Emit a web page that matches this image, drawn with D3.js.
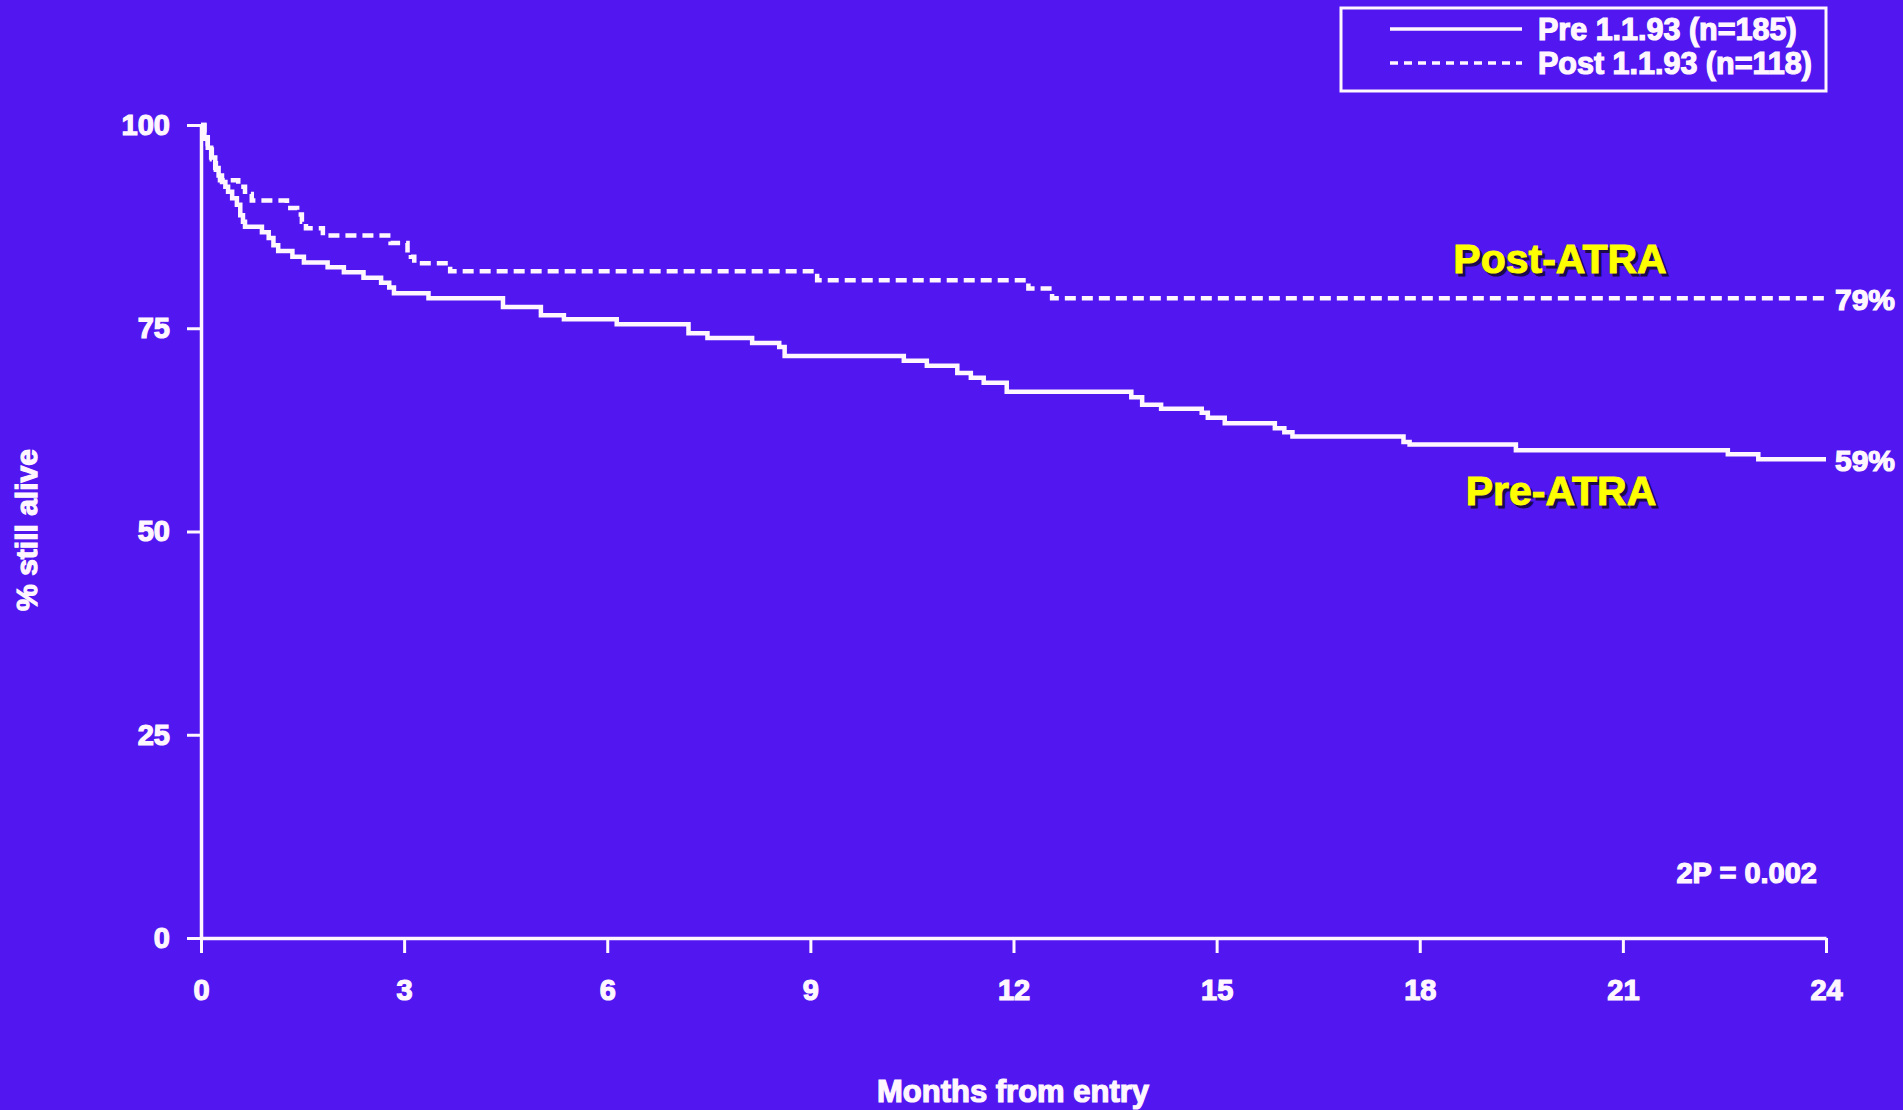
<!DOCTYPE html>
<html>
<head>
<meta charset="utf-8">
<script src="https://cdnjs.cloudflare.com/ajax/libs/d3/7.8.5/d3.min.js"></script>
<style>
html, body { margin: 0; padding: 0; background: #5216f0; overflow: hidden; }
svg { display: block; font-family: "Liberation Sans", Arial, sans-serif; font-weight: bold; }
.blanc { fill: #fff6ff; stroke: #fff6ff; stroke-width: 1.2px; }
.jaune { fill: #ffff00; stroke: #ffff00; stroke-width: 1px; }
.ombre { fill: #1c0a4a; stroke: #1c0a4a; stroke-width: 1px; }
</style>
</head>
<body>
<script>
// Courbes de survie (mois, % encore en vie)
var preMonths = [0, 0.05, 0.1, 0.15, 0.21, 0.26, 0.31, 0.36, 0.4, 0.46, 0.53, 0.58, 0.62, 0.65, 0.9, 1.0, 1.07, 1.14, 1.35, 1.52, 1.87, 2.11, 2.4, 2.66, 2.78, 2.85, 3.36, 4.46, 5.02, 5.36, 6.14, 7.2, 7.48, 8.14, 8.54, 8.62, 10.38, 10.72, 11.17, 11.37, 11.56, 11.9, 13.74, 13.9, 14.18, 14.78, 14.87, 15.12, 15.86, 16.0, 16.12, 17.76, 17.85, 19.42, 22.55, 23.0, 24];
var preSurv = [100, 98.5, 97.2, 96.0, 94.7, 93.8, 93.0, 92.4, 91.8, 91.0, 90.2, 88.9, 88.1, 87.5, 86.8, 86.1, 85.2, 84.5, 83.8, 83.1, 82.5, 81.9, 81.2, 80.6, 80.0, 79.3, 78.7, 77.6, 76.6, 76.1, 75.5, 74.4, 73.8, 73.2, 72.7, 71.6, 71.0, 70.4, 69.5, 68.9, 68.3, 67.2, 66.5, 65.6, 65.1, 64.6, 64.0, 63.3, 62.7, 62.2, 61.7, 61.0, 60.7, 60.0, 59.5, 58.9, 58.9];

var postMonths = [0, 0.05, 0.1, 0.16, 0.22, 0.28, 0.55, 0.65, 0.75, 1.27, 1.42, 1.49, 1.55, 1.8, 2.8, 3.05, 3.1, 3.15, 3.68, 9.1, 12.22, 12.57, 24];
var postSurv = [100, 98.3, 97.0, 95.8, 94.5, 93.2, 92.4, 91.5, 90.7, 89.8, 89.0, 88.1, 87.3, 86.4, 85.5, 84.6, 83.8, 83.0, 82.0, 80.9, 79.9, 78.7, 78.7];

var xTicks = [0, 3, 6, 9, 12, 15, 18, 21, 24];
var yTicks = [0, 25, 50, 75, 100];

var legendLabels = ["Pre 1.1.93 (n=185)", "Post 1.1.93 (n=118)"];
var groupLabels = ["Pre-ATRA", "Post-ATRA"];
var endLabels = ["59%", "79%"];
var pLabel = "2P = 0.002";

var width = 1903,
    height = 1110;

var x = d3.scaleLinear().domain([0, 24]).range([201, 1826]);
var y = d3.scaleLinear().domain([0, 100]).range([938, 125]);

var svg = d3.select("body").append("svg")
    .attr("width", width)
    .attr("height", height);

svg.append("rect").attr("width", width).attr("height", height).attr("fill", "#5216f0");

// Axes
var axeY = svg.append("g")
    .attr("transform", "translate(" + x(0) + ",0)")
    .call(d3.axisLeft(y).tickValues(yTicks).tickSize(14).tickSizeOuter(0).tickPadding(17));

var axeX = svg.append("g")
    .attr("transform", "translate(0," + y(0) + ")")
    .call(d3.axisBottom(x).tickValues(xTicks).tickSize(15).tickSizeOuter(0).tickPadding(26));

[axeY, axeX].forEach(function(a) {
    a.select(".domain").attr("stroke", "#fff6ff").attr("stroke-width", 3.5);
    a.selectAll(".tick line").attr("stroke", "#fff6ff").attr("stroke-width", 3);
    a.selectAll(".tick text")
        .attr("class", "blanc")
        .style("font-size", "29px")
        .style("font-family", "'Liberation Sans', Arial, sans-serif")
        .style("font-weight", "bold");
});
axeX.selectAll(".tick text").attr("dy", "0.71em");

// Titres des axes
svg.append("text")
    .attr("class", "blanc")
    .attr("transform", "translate(37,530) rotate(-90)")
    .attr("text-anchor", "middle")
    .style("font-size", "30px")
    .text("% still alive");

svg.append("text")
    .attr("class", "blanc")
    .attr("x", 1013).attr("y", 1102)
    .attr("text-anchor", "middle")
    .style("font-size", "31px")
    .text("Months from entry");

// Courbes
var line = d3.line()
    .x(function(d) { return x(d[0]); })
    .y(function(d) { return y(d[1]); })
    .curve(d3.curveStepAfter);

var preData = d3.zip(preMonths, preSurv);
var postData = d3.zip(postMonths, postSurv);

svg.append("path")
    .datum(postData)
    .attr("d", line)
    .attr("fill", "none")
    .attr("stroke", "#fff6ff")
    .attr("stroke-width", 4.5)
    .attr("stroke-dasharray", "11,6");

svg.append("path")
    .datum(preData)
    .attr("d", line)
    .attr("fill", "none")
    .attr("stroke", "#fff6ff")
    .attr("stroke-width", 4.5);

// Pourcentages en bout de courbe
var lastPre = preSurv[preSurv.length - 1],
    lastPost = postSurv[postSurv.length - 1];

svg.append("text").attr("class", "blanc")
    .attr("x", x(24) + 9).attr("y", y(lastPost) + 12)
    .style("font-size", "30px").text(endLabels[1]);

svg.append("text").attr("class", "blanc")
    .attr("x", x(24) + 9).attr("y", y(lastPre) + 12)
    .style("font-size", "30px").text(endLabels[0]);

// Etiquettes jaunes
function etiquette(txt, cx, by) {
    svg.append("text").attr("class", "ombre")
        .attr("x", cx + 3).attr("y", by + 3)
        .attr("text-anchor", "middle")
        .style("font-size", "41px").text(txt);
    svg.append("text").attr("class", "jaune")
        .attr("x", cx).attr("y", by)
        .attr("text-anchor", "middle")
        .style("font-size", "41px").text(txt);
}
etiquette(groupLabels[1], 1560, 273);
etiquette(groupLabels[0], 1561, 505);

// 2P
svg.append("text").attr("class", "blanc")
    .attr("x", 1817).attr("y", 883)
    .attr("text-anchor", "end")
    .style("font-size", "29px").text(pLabel);

// Legende
var leg = svg.append("g");
leg.append("rect")
    .attr("x", 1341).attr("y", 8)
    .attr("width", 485).attr("height", 83)
    .attr("fill", "none")
    .attr("stroke", "#fff6ff")
    .attr("stroke-width", 3);

leg.append("line")
    .attr("x1", 1390).attr("y1", 29).attr("x2", 1522).attr("y2", 29)
    .attr("stroke", "#fff6ff").attr("stroke-width", 3.5);
leg.append("line")
    .attr("x1", 1390).attr("y1", 63).attr("x2", 1522).attr("y2", 63)
    .attr("stroke", "#fff6ff").attr("stroke-width", 3.5)
    .attr("stroke-dasharray", "8,6");

leg.append("text").attr("class", "blanc")
    .attr("x", 1538).attr("y", 40)
    .style("font-size", "30.5px").text(legendLabels[0]);
leg.append("text").attr("class", "blanc")
    .attr("x", 1538).attr("y", 74)
    .style("font-size", "30.5px").text(legendLabels[1]);
</script>
</body>
</html>
